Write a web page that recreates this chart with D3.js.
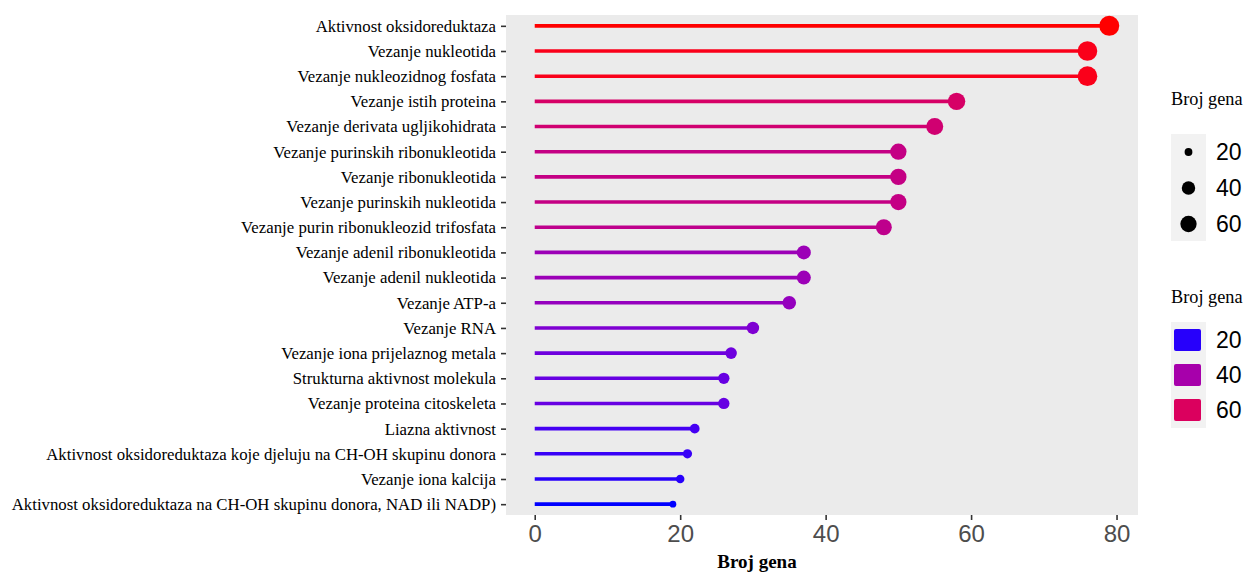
<!DOCTYPE html>
<html lang="hr">
<head>
  <meta charset="utf-8">
  <title>Broj gena – lollipop</title>
  <script src="https://cdn.jsdelivr.net/npm/d3@7"></script>
  <style>
    body { margin: 0; background: #fff; }
  </style>
</head>
<body>
<script>
// categories, top to bottom
var categories = [
  "Aktivnost oksidoreduktaza",
  "Vezanje nukleotida",
  "Vezanje nukleozidnog fosfata",
  "Vezanje istih proteina",
  "Vezanje derivata ugljikohidrata",
  "Vezanje purinskih ribonukleotida",
  "Vezanje ribonukleotida",
  "Vezanje purinskih nukleotida",
  "Vezanje purin ribonukleozid trifosfata",
  "Vezanje adenil ribonukleotida",
  "Vezanje adenil nukleotida",
  "Vezanje ATP-a",
  "Vezanje RNA",
  "Vezanje iona prijelaznog metala",
  "Strukturna aktivnost molekula",
  "Vezanje proteina citoskeleta",
  "Liazna aktivnost",
  "Aktivnost oksidoreduktaza koje djeluju na CH-OH skupinu donora",
  "Vezanje iona kalcija",
  "Aktivnost oksidoreduktaza na CH-OH skupinu donora, NAD ili NADP)"
];
var counts = [79, 76, 76, 58, 55, 50, 50, 50, 48, 37, 37, 35, 30, 27, 26, 26, 22, 21, 20, 19];
var xTicks = [0, 20, 40, 60, 80];
var legendValues = [20, 40, 60];
var axisTitle = "Broj gena";

var width = 1246, height = 573;
var panel = {left: 506, right: 1138, top: 15, bottom: 515};

var svg = d3.select("body").append("svg")
    .attr("width", width)
    .attr("height", height);

var minV = d3.min(counts), maxV = d3.max(counts);

var x = d3.scaleLinear()
    .domain([-3.95, 82.95])
    .range([panel.left, panel.right]);

var y = d3.scalePoint()
    .domain(categories)
    .range([panel.top, panel.bottom])
    .padding(0.43);

var color = d3.scaleLinear()
    .domain([minV, maxV])
    .range(["blue", "red"])
    .interpolate(d3.interpolateLab);

// point radius ~ sqrt of rescaled value (like ggplot's area scale)
var radius = function(v) {
  return 3.4 + 6.6 * Math.sqrt(Math.max(0, (v - minV) / (maxV - minV)));
};

// panel background
svg.append("rect")
    .attr("x", panel.left)
    .attr("y", panel.top)
    .attr("width", panel.right - panel.left)
    .attr("height", panel.bottom - panel.top)
    .attr("fill", "#ebebeb");

var data = categories.map(function(c, i) { return {name: c, value: counts[i]}; });

var g = svg.append("g");

g.selectAll("line.stem")
    .data(data)
    .enter().append("line")
    .attr("class", "stem")
    .attr("x1", x(0))
    .attr("x2", function(d) { return x(d.value); })
    .attr("y1", function(d) { return y(d.name); })
    .attr("y2", function(d) { return y(d.name); })
    .attr("stroke", function(d) { return color(d.value); })
    .attr("stroke-width", 3.6);

g.selectAll("circle.dot")
    .data(data)
    .enter().append("circle")
    .attr("class", "dot")
    .attr("cx", function(d) { return x(d.value); })
    .attr("cy", function(d) { return y(d.name); })
    .attr("r", function(d) { return radius(d.value); })
    .attr("fill", function(d) { return color(d.value); });

// y axis
var yAxis = svg.append("g")
    .attr("transform", "translate(" + panel.left + ",0)")
    .call(d3.axisLeft(y).tickSize(5).tickPadding(5));
yAxis.select(".domain").remove();
yAxis.selectAll(".tick line").attr("stroke", "#333").attr("stroke-width", 1.6);
yAxis.selectAll(".tick text")
    .attr("fill", "#000")
    .attr("font-family", "'Liberation Serif', 'Times New Roman', serif")
    .attr("font-size", 16.8);

// x axis
var xAxis = svg.append("g")
    .attr("transform", "translate(0," + panel.bottom + ")")
    .call(d3.axisBottom(x).tickValues(xTicks).tickSize(5).tickPadding(5));
xAxis.select(".domain").remove();
xAxis.selectAll(".tick line").attr("stroke", "#333").attr("stroke-width", 1.6);
xAxis.selectAll(".tick text")
    .attr("fill", "#4d4d4d")
    .attr("font-family", "'Liberation Sans', Arial, sans-serif")
    .attr("font-size", 24);

svg.append("text")
    .attr("x", 757)
    .attr("y", 568)
    .attr("text-anchor", "middle")
    .attr("font-family", "'Liberation Serif', 'Times New Roman', serif")
    .attr("font-weight", "bold")
    .attr("font-size", 19)
    .text(axisTitle);

// legend: size
var legSize = svg.append("g");
legSize.append("text")
    .attr("x", 1171).attr("y", 105)
    .attr("font-family", "'Liberation Serif', 'Times New Roman', serif")
    .attr("font-size", 18.3)
    .text(axisTitle);
legSize.append("rect")
    .attr("x", 1171).attr("y", 134).attr("width", 35).attr("height", 107)
    .attr("fill", "#f2f2f2");
legSize.selectAll("circle")
    .data(legendValues)
    .enter().append("circle")
    .attr("cx", 1188.5)
    .attr("cy", function(d, i) { return 152 + i * 36; })
    .attr("r", function(d) { return radius(d) * 0.92; })
    .attr("fill", "#000");
legSize.selectAll("text.lab")
    .data(legendValues)
    .enter().append("text")
    .attr("class", "lab")
    .attr("x", 1216)
    .attr("y", function(d, i) { return 152 + i * 36; })
    .attr("dy", "0.36em")
    .attr("font-family", "'Liberation Sans', Arial, sans-serif")
    .attr("font-size", 23)
    .text(function(d) { return d; });

// legend: colour
var legCol = svg.append("g");
legCol.append("text")
    .attr("x", 1171).attr("y", 303)
    .attr("font-family", "'Liberation Serif', 'Times New Roman', serif")
    .attr("font-size", 18.3)
    .text(axisTitle);
legCol.append("rect")
    .attr("x", 1171).attr("y", 322).attr("width", 35).attr("height", 106)
    .attr("fill", "#f2f2f2");
legCol.selectAll("rect.key")
    .data(legendValues)
    .enter().append("rect")
    .attr("class", "key")
    .attr("x", 1174)
    .attr("y", function(d, i) { return 340 + i * 35 - 11; })
    .attr("width", 27)
    .attr("height", 22)
    .attr("rx", 2)
    .attr("fill", function(d) { return color(d); });
legCol.selectAll("text.lab")
    .data(legendValues)
    .enter().append("text")
    .attr("class", "lab")
    .attr("x", 1216)
    .attr("y", function(d, i) { return 340 + i * 35; })
    .attr("dy", "0.36em")
    .attr("font-family", "'Liberation Sans', Arial, sans-serif")
    .attr("font-size", 23)
    .text(function(d) { return d; });
</script>
</body>
</html>
